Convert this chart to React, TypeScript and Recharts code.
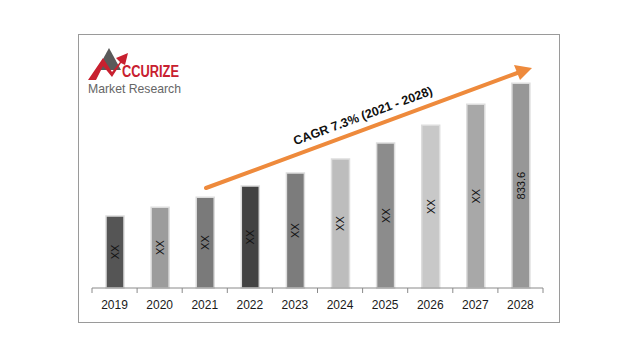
import React from 'react';
import { BarChart, Bar, XAxis, YAxis, Cell, LabelList } from 'recharts';

const years = ['2019', '2020', '2021', '2022', '2023', '2024', '2025', '2026', '2027', '2028'];
const values = [293, 329, 370, 415, 468, 525, 590, 663, 748, 833.6];
const barLabels = ['XX', 'XX', 'XX', 'XX', 'XX', 'XX', 'XX', 'XX', 'XX', '833.6'];
const barColors = ['#555555', '#9c9c9c', '#7a7a7a', '#434343', '#7c7c7c', '#bdbdbd', '#8c8c8c', '#c8c8c8', '#a8a8a8', '#979797'];
const cagrText = 'CAGR 7.3% (2021  - 2028)';

const data = years.map((y, i) => ({ year: y, value: values[i], label: barLabels[i] }));

const W = 640;
const H = 357;
const M = { top: 67, right: 97, bottom: 39, left: 92 };
const BAND = (W - M.left - M.right) / years.length;

const FONT = '"Liberation Sans", Arial, sans-serif';

const Tick = (props: any) => {
  const { x, y, payload, index } = props;
  const left = x - BAND / 2;
  const right = x + BAND / 2;
  return (
    <g>
      <line x1={left} y1={y - 8} x2={left} y2={y - 3} stroke="#8a8a8a" strokeWidth={1} />
      {index === years.length - 1 && (
        <line x1={right} y1={y - 8} x2={right} y2={y - 3} stroke="#8a8a8a" strokeWidth={1} />
      )}
      <text x={x} y={y + 13} textAnchor="middle" fontFamily={FONT} fontSize={12} fill="#1a1a1a">
        {payload.value}
      </text>
    </g>
  );
};

const BarLabel = (props: any) => {
  const { x, y, width, height, value } = props;
  const cx = x + width / 2;
  const cy = y + height / 2;
  return (
    <text
      x={cx}
      y={cy}
      transform={`rotate(-90 ${cx} ${cy})`}
      textAnchor="middle"
      dominantBaseline="central"
      fontFamily={FONT}
      fontSize={11}
      fill="#111"
    >
      {value}
    </text>
  );
};

export default function App() {
  return (
    <div style={{ position: 'absolute', left: 0, top: 0, width: W, height: H, background: '#fff' }}>
      <BarChart width={W} height={H} data={data} margin={M}>
        <YAxis hide domain={[0, 900]} />
        <XAxis
          dataKey="year"
          height={30}
          axisLine={{ stroke: '#8a8a8a' }}
          tickLine={false}
          tick={<Tick />}
          interval={0}
        />
        <Bar dataKey="value" barSize={18} isAnimationActive={false} stroke="#dddddd" strokeWidth={1.5}>
          {data.map((d, i) => (
            <Cell key={d.year} fill={barColors[i]} />
          ))}
          <LabelList dataKey="label" content={<BarLabel />} />
        </Bar>
      </BarChart>
      <svg
        width={W}
        height={H}
        style={{ position: 'absolute', left: 0, top: 0, pointerEvents: 'none' }}
      >
        <rect x={78.5} y={34.5} width={481} height={288} fill="none" stroke="#9a9a9a" strokeWidth={1} />
        {/* logo */}
        <polygon points="109,48 97,70 121,70" fill="#5a5a5a" />
        <polygon points="88,80 103,58 112,72 120,62 116,58 128,53 125,65 121,63 112,77 103,66 96,80" fill="#c8202f" />
        <text x={122} y={77} fontFamily={FONT} fontWeight="bold" fontSize={16} fill="#c8202f" textLength={57} lengthAdjust="spacingAndGlyphs">
          CCURIZE
        </text>
        <text x={88} y={93} fontFamily={FONT} fontSize={13} fill="#666" textLength={93} lengthAdjust="spacingAndGlyphs">
          Market Research
        </text>
        {/* CAGR arrow */}
        <line x1={206} y1={188} x2={520} y2={72} stroke="#ee8a3c" strokeWidth={4} strokeLinecap="round" />
        <polygon points="532,68 514,65 520,80" fill="#ee8a3c" />
        <text
          x={363}
          y={116}
          transform="rotate(-20.3 363 116)"
          textAnchor="middle"
          dominantBaseline="central"
          fontFamily={FONT}
          fontWeight="bold"
          fontSize={12.5}
          fill="#111"
        >
          {cagrText}
        </text>
      </svg>
    </div>
  );
}
